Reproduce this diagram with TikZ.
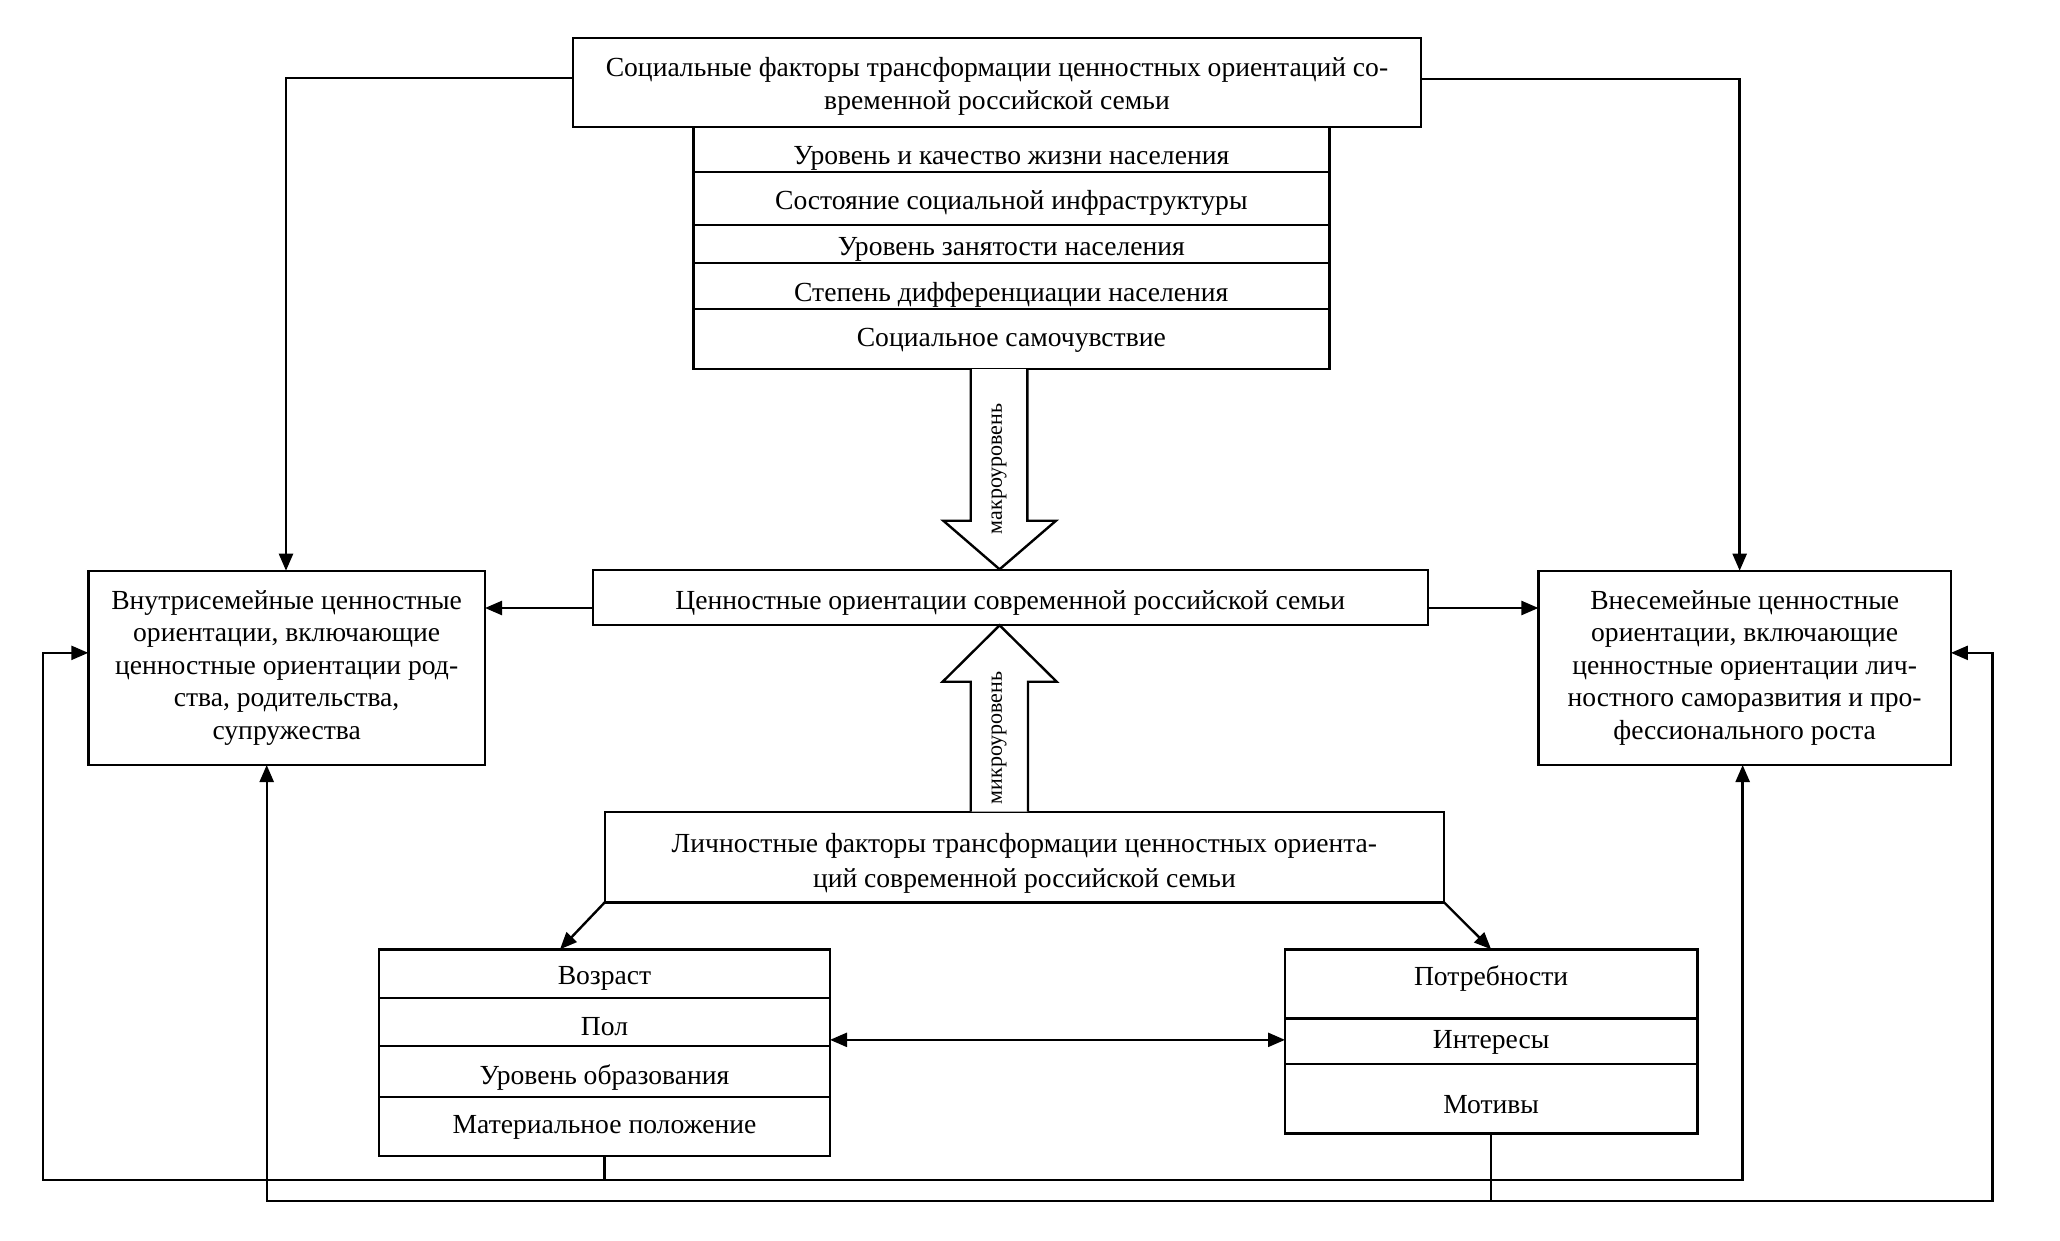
\documentclass[tikz,border=0pt]{standalone}
\usepackage{fontspec}
\setmainfont{Liberation Serif}
\usetikzlibrary{arrows.meta}
\begin{document}
\begin{tikzpicture}[x=1pt,y=-1pt,
  box/.style={draw, line width=2.4pt, fill=white, inner sep=0pt, outer sep=0pt, align=center, font=\fontsize{27.6}{32.5}\selectfont},
  row/.style={box, text height=19pt, text depth=4pt},
  conn/.style={line width=2.4pt, -{Triangle[length=17pt,width=14pt]}},
  dconn/.style={line width=2.4pt, {Triangle[length=17pt,width=14pt]}-{Triangle[length=17pt,width=14pt]}},
  plain/.style={line width=2.4pt},
  blockarrow/.style={draw, line width=2.4pt, fill=white, line join=miter},
  lvl/.style={rotate=90, font=\fontsize{22}{26}\selectfont, inner sep=0pt}
]
\useasboundingbox[fill=white] (0,0) rectangle (2060,1241);

% list of social factors
\node[row, minimum width=636pt, minimum height=45.3pt, text height=30pt, text depth=0pt] (sr1) at (1011.3,149.65) {Уровень и качество жизни населения};
\node[row, minimum width=636pt, minimum height=52.7pt, text height=23pt, text depth=2pt] (sr2) at (1011.3,198.65) {Состояние социальной инфраструктуры};
\node[row, minimum width=636pt, minimum height=38.3pt, text height=23pt, text depth=0pt] (sr3) at (1011.3,244.15) {Уровень занятости населения};
\node[row, minimum width=636pt, minimum height=45.4pt, text height=31pt, text depth=0pt] (sr4) at (1011.3,286) {Степень дифференциации населения};
\node[row, minimum width=636pt, minimum height=60.3pt] (sr5) at (1011.3,338.85) {Социальное самочувствие};

% top box
\node[box, minimum width=848.5pt, minimum height=89pt, font=\fontsize{27.6}{33}\selectfont] (soc) at (997,82.8) {\rule{0pt}{26pt}Социальные факторы трансформации ценностных ориентаций со-\\временной российской семьи};

% middle box
\node[box, minimum width=835.3pt, minimum height=55pt, text height=23pt, text depth=0pt] (mid) at (1010.35,597.5) {Ценностные ориентации современной российской семьи};

% left and right boxes
\node[box, minimum width=396.7pt, minimum height=194.3pt] (left) at (286.65,667.85) {Внутрисемейные ценностные\\ориентации, включающие\\ценностные ориентации род-\\ства, родительства,\\супружества};
\node[box, minimum width=412.5pt, minimum height=194.3pt] (right) at (1744.65,667.85) {Внесемейные ценностные\\ориентации, включающие\\ценностные ориентации лич-\\ностного саморазвития и про-\\фессионального роста};

% personal factors box
\node[box, minimum width=839.2pt, minimum height=90.6pt, font=\fontsize{27.6}{35}\selectfont] (pers) at (1024.4,857) {\rule{0pt}{31pt}Личностные факторы трансформации ценностных ориента-\\ций современной российской семьи};

% bottom left list
\node[row, minimum width=451pt, minimum height=48.4pt, text height=21pt, text depth=0pt] (lr1) at (604.5,973.5) {Возраст};
\node[row, minimum width=451pt, minimum height=48.3pt, text height=27pt, text depth=0pt] (lr2) at (604.5,1021.85) {Пол};
\node[row, minimum width=451pt, minimum height=50.7pt, text height=27pt, text depth=0pt] (lr3) at (604.5,1071.35) {Уровень образования};
\node[row, minimum width=451pt, minimum height=59.3pt] (lr4) at (604.5,1126.35) {Материальное положение};

% bottom right list
\node[row, minimum width=412.3pt, minimum height=69pt, text height=19pt, text depth=15pt] (rr1) at (1491.15,983.8) {Потребности};
\node[row, minimum width=412.3pt, minimum height=45.7pt] (rr2) at (1491.15,1041.15) {Интересы};
\node[row, minimum width=412.3pt, minimum height=69.3pt, text height=30pt, text depth=0pt] (rr3) at (1491.15,1098.65) {Мотивы};

% block arrows
\draw[blockarrow] (970.7,369) -- (970.7,520.7) -- (943.3,520.7) -- (999.6,569.3) -- (1056,520.7) -- (1027.3,520.7) -- (1027.3,369);
\draw[blockarrow] (970.7,811.7) -- (970.7,681.7) -- (942.7,681.7) -- (999.6,625.3) -- (1056.7,681.7) -- (1028,681.7) -- (1028,811.7);
\node[lvl] (macro) at (999,469) {макроуровень};
\node[lvl] (micro) at (999,738) {микроуровень};

% connectors from top box
\coordinate (sL) at ([yshift=4.8pt]soc.west);
\coordinate (sR) at ([yshift=4pt]soc.east);
\draw[conn] (sL) -| ([xshift=-0.65pt]left.north);
\draw[conn] (sR) -| ([xshift=-5pt]right.north);

% connectors from middle box
\coordinate (mL) at ([yshift=-10.5pt]mid.west);
\coordinate (mR) at ([yshift=-10.5pt]mid.east);
\draw[conn] (mL) -- (mL -| left.east);
\draw[conn] (mR) -- (mR -| right.west);

% personal box to lists
\draw[conn] (pers.south west) -- ([xshift=-44.5pt]lr1.north);
\draw[conn] (pers.south east) -- (rr1.north);

% double arrow between lists
\coordinate (da) at ([yshift=-18pt]lr2.east);
\draw[dconn] (da) -- (da -| rr2.west);

% upper feedback loop
\coordinate (lfb) at ([yshift=15pt]left.west);
\coordinate (ulc) at (42.7,1180);
\coordinate (urc) at ([xshift=-2pt]right.south |- ulc);
\draw[plain] (lr4.south) -- (lr4.south |- ulc);
\draw[conn] (urc) -- (ulc) |- (lfb);
\draw[conn] (ulc) -- (urc) -- ([xshift=-2pt]right.south);

% lower feedback loop
\coordinate (rfb) at ([yshift=15pt]right.east);
\coordinate (llc) at (266.7,1201);
\coordinate (lrc) at (1992.3,1201);
\draw[plain] (rr3.south) -- (rr3.south |- llc);
\draw[conn] (lrc) -- (llc) -- (llc |- left.south);
\draw[conn] (llc) -- (lrc) |- (rfb);
\end{tikzpicture}
\end{document}
